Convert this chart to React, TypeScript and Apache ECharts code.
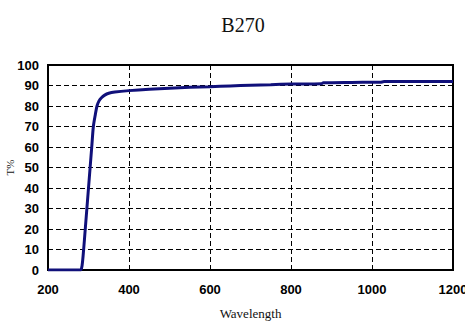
import React, { useEffect, useRef } from "react";
import * as echarts from "echarts";

const wavelengths = [200, 250, 280, 284, 288, 292, 296, 300, 304, 308, 312, 317, 321, 326, 332, 340, 350, 365, 400, 450, 500, 550, 600, 650, 700, 750, 800, 875, 880, 950, 1020, 1030, 1100, 1200];
const transmittance = [0, 0, 0, 2, 10, 20, 30, 40, 50, 60, 70, 76, 80, 82.5, 84, 85.3, 86.2, 86.8, 87.5, 88.2, 88.7, 89.1, 89.4, 89.8, 90.1, 90.4, 90.7, 90.9, 91.3, 91.5, 91.6, 91.9, 92, 92];
const title = "B270";
const xName = "Wavelength";
const yName = "T%";

export default function App() {
  const ref = useRef<HTMLDivElement>(null);
  useEffect(() => {
    if (!ref.current) return;
    const chart = echarts.init(ref.current, null, { renderer: "svg" });
    const data = wavelengths.map((w, i) => [w, transmittance[i]]);
    chart.setOption({
      animation: false,
      backgroundColor: "#fff",
      title: {
        text: title,
        left: 238,
        top: 10,
        textAlign: "center",
        textStyle: { fontFamily: "Liberation Serif", fontSize: 20, fontWeight: "normal", color: "#111" },
      },
      grid: {
        left: 48, right: 12, top: 65, bottom: 53,
        containLabel: false, outerBoundsMode: "none",
        show: true, borderColor: "#000", borderWidth: 2, backgroundColor: "transparent",
      },
      xAxis: {
        type: "value", min: 200, max: 1200, interval: 200,
        name: xName, nameLocation: "middle", nameGap: 37, nameMoveOverlap: false,
        nameTextStyle: { fontFamily: "Liberation Serif", fontSize: 13, color: "#111" },
        axisLine: { lineStyle: { color: "#000", width: 2 } },
        axisTick: { show: true, inside: true, length: 4, lineStyle: { color: "#000" } },
        axisLabel: { margin: 13, fontFamily: "Liberation Sans", fontWeight: "bold", fontSize: 13, color: "#000", formatter: (v: number) => String(v) },
        splitLine: { show: true, lineStyle: { color: "#000", type: [5, 3], width: 1 } },
      },
      yAxis: {
        type: "value", min: 0, max: 100, interval: 10,
        name: yName, nameLocation: "middle", nameGap: 33, nameRotate: 90, nameMoveOverlap: false,
        nameTextStyle: { fontFamily: "Liberation Serif", fontSize: 11, color: "#111" },
        axisLine: { show: true, lineStyle: { color: "#000", width: 2 } },
        axisTick: { show: false },
        axisLabel: { margin: 9, fontFamily: "Liberation Sans", fontWeight: "bold", fontSize: 13, color: "#000", formatter: (v: number) => String(v) },
        splitLine: { show: true, lineStyle: { color: "#000", type: [5, 3], width: 1 } },
      },
      series: [
        {
          type: "line",
          data,
          showSymbol: false,
          smooth: 0.3,
          lineStyle: { color: "#10107a", width: 3 },
          z: 5,
        },
      ],
    });
    return () => chart.dispose();
  }, []);
  return <div ref={ref} style={{ position: "fixed", left: 0, top: 0, width: 465, height: 323 }} />;
}
